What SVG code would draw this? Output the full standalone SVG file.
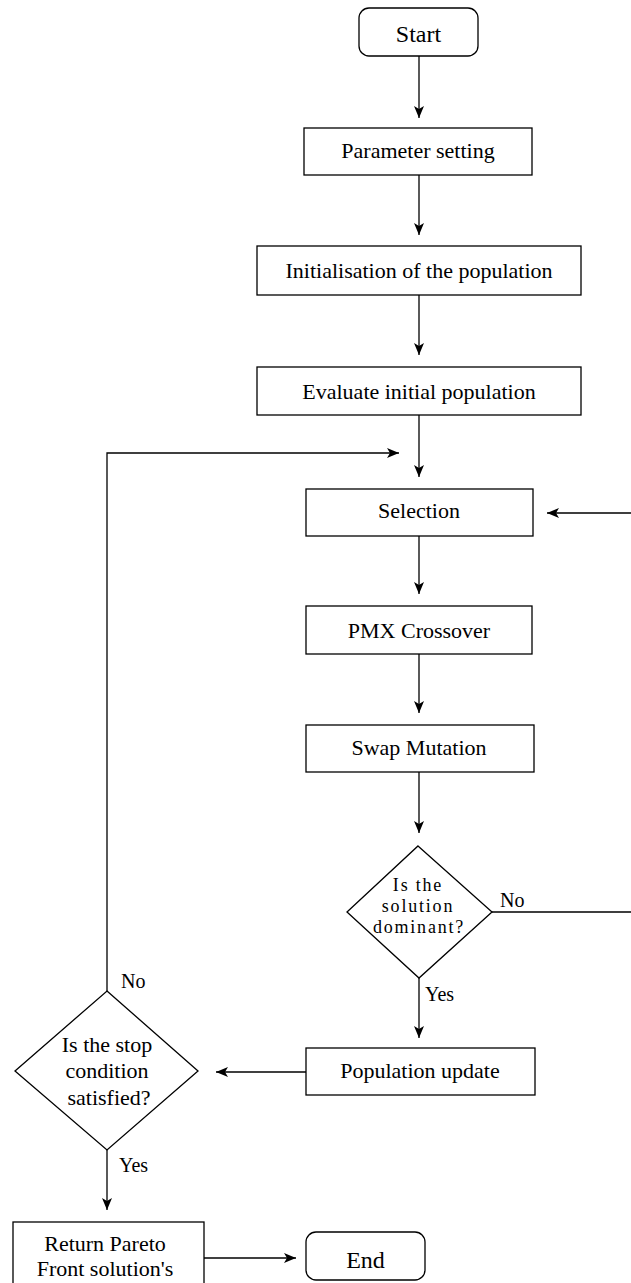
<svg xmlns="http://www.w3.org/2000/svg" width="631" height="1283" viewBox="0 0 631 1283">
<style>
.box{fill:#fff;stroke:#000;stroke-width:1.3}
.t{font-family:"Liberation Serif","Times New Roman",serif;font-size:22px;fill:#000;text-anchor:middle}
.d{font-size:18px;letter-spacing:1.8px}
.tl{font-family:"Liberation Serif","Times New Roman",serif;font-size:20px;fill:#000}
.c{fill:none;stroke:#000;stroke-width:1.3}
</style>
<defs>
<marker id="ah" markerUnits="userSpaceOnUse" markerWidth="12" markerHeight="10" refX="12" refY="5" orient="auto">
<path d="M0,0 L12,5 L0,10 L3,5 z" fill="#000"/>
</marker>
</defs>
<g id="connectors">
<path class="c" d="M419,56 V118" marker-end="url(#ah)"/>
<path class="c" d="M419,175 V235" marker-end="url(#ah)"/>
<path class="c" d="M419,295 V355" marker-end="url(#ah)"/>
<path class="c" d="M419,415 V477" marker-end="url(#ah)"/>
<path class="c" d="M107,991 V453 H399" marker-end="url(#ah)"/>
<path class="c" d="M419,536 V594" marker-end="url(#ah)"/>
<path class="c" d="M419,654 V713" marker-end="url(#ah)"/>
<path class="c" d="M419,772 V833" marker-end="url(#ah)"/>
<path class="c" d="M492,912 H640 V513 H547" marker-end="url(#ah)"/>
<path class="c" d="M419,978 V1038" marker-end="url(#ah)"/>
<path class="c" d="M306,1072 H216" marker-end="url(#ah)"/>
<path class="c" d="M107,1150 V1210" marker-end="url(#ah)"/>
<path class="c" d="M204,1258 H296" marker-end="url(#ah)"/>
<text class="tl" x="500" y="907">No</text>
<text class="tl" x="425" y="1001">Yes</text>
<text class="tl" x="121" y="988">No</text>
<text class="tl" x="119" y="1172">Yes</text>
</g>
<g id="start">
<rect class="box" x="359" y="8" width="119" height="48" rx="10"/>
<text class="t" x="418.5" y="42" style="font-size:24px">Start</text>
</g>
<g id="param">
<rect class="box" x="304" y="128" width="228" height="47"/>
<text class="t" x="418" y="158">Parameter setting</text>
</g>
<g id="init">
<rect class="box" x="257" y="246" width="324" height="49"/>
<text class="t" x="419" y="278">Initialisation of the population</text>
</g>
<g id="eval">
<rect class="box" x="257" y="367" width="324" height="48"/>
<text class="t" x="419" y="399">Evaluate initial population</text>
</g>
<g id="selection">
<rect class="box" x="306" y="489" width="227" height="47"/>
<text class="t" x="419" y="518">Selection</text>
</g>
<g id="pmx">
<rect class="box" x="306" y="606" width="226" height="48"/>
<text class="t" x="419" y="638">PMX Crossover</text>
</g>
<g id="swap">
<rect class="box" x="306" y="725" width="228" height="47"/>
<text class="t" x="419" y="755">Swap Mutation</text>
</g>
<g id="dominant">
<polygon class="box" points="418,846 492,912 419,978 347,912"/>
<text class="t d" x="418" y="891">Is the</text>
<text class="t d" x="418" y="912">solution</text>
<text class="t d" x="419" y="933">dominant?</text>
</g>
<g id="popupdate">
<rect class="box" x="306" y="1048" width="229" height="47"/>
<text class="t" x="420" y="1078">Population update</text>
</g>
<g id="stop">
<polygon class="box" points="107,991 198,1071 107,1150 15,1071"/>
<text class="t" x="107" y="1052">Is the stop</text>
<text class="t" x="107" y="1078">condition</text>
<text class="t" x="109" y="1105">satisfied?</text>
</g>
<g id="return">
<rect class="box" x="13" y="1222" width="191" height="80"/>
<text class="t" x="105" y="1251">Return Pareto</text>
<text class="t" x="105" y="1276">Front solution's</text>
</g>
<g id="end">
<rect class="box" x="306" y="1232" width="119" height="48" rx="10"/>
<text class="t" x="365.5" y="1268" style="font-size:24px">End</text>
</g>
</svg>
